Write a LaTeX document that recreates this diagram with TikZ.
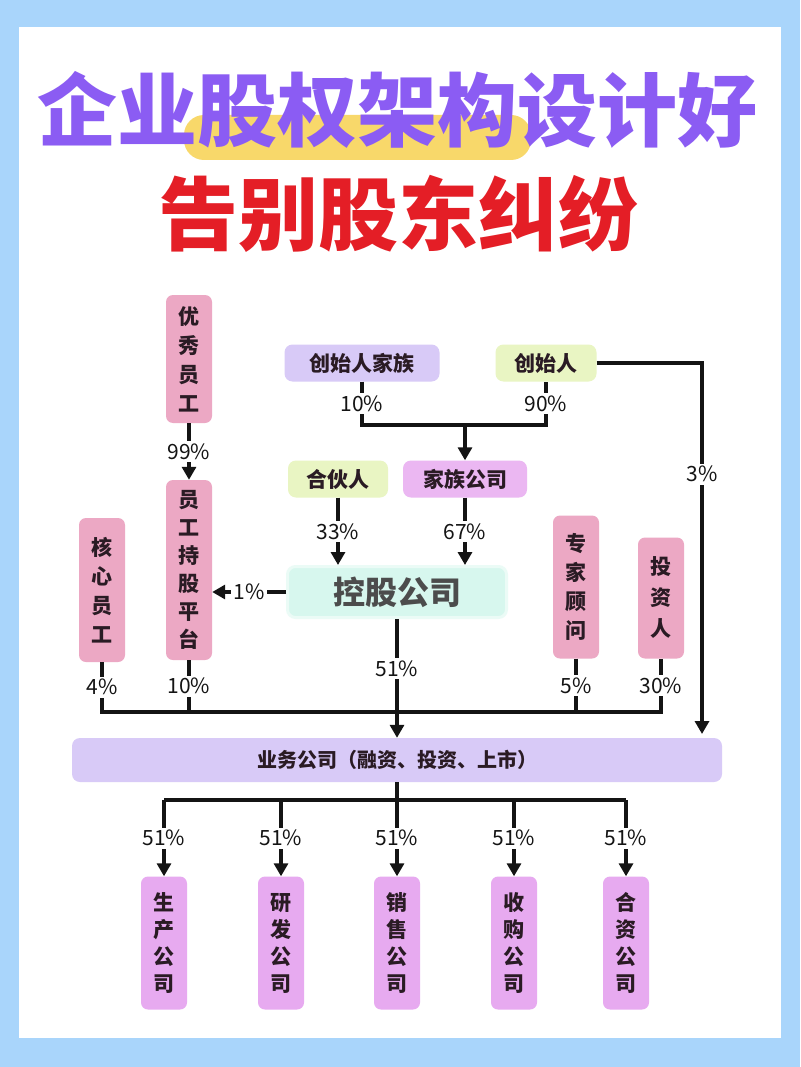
\documentclass[tikz,border=0pt]{standalone}
\usepackage{fontspec}
\setmainfont{Noto Sans CJK SC}
\usetikzlibrary{arrows.meta}
\definecolor{bgblue}{HTML}{A9D5FB}
\definecolor{pill}{HTML}{F8D86A}
\definecolor{titlepurple}{HTML}{8B5CF3}
\definecolor{titlered}{HTML}{E41E26}
\definecolor{pinkbox}{HTML}{ECA8C4}
\definecolor{lavender}{HTML}{D8CAF7}
\definecolor{lime}{HTML}{E9F5C3}
\definecolor{violet}{HTML}{E7AAF0}
\definecolor{mint}{HTML}{D7F7EE}
\definecolor{boxtext}{HTML}{2A1B24}
\definecolor{ink}{HTML}{141414}

\begin{document}
\begin{tikzpicture}[x=1pt,y=-1pt]

        \fill[bgblue] (0,0) rectangle (800,1067);
        \useasboundingbox (0,0) rectangle (800,1067);
        \fill[white] (19,27) rectangle (781,1038);

        \fill[pill, rounded corners=20pt] (184,115) rectangle (531,160);
        \node[font=\fontsize{80}{80}\selectfont\bfseries, text=titlepurple] (t1) at (397,110) {企业股权架构设计好};
        \node[font=\fontsize{80}{80}\selectfont\bfseries, text=titlered] (t2) at (398,214) {告别股东纠纷};

        \begin{scope}[every node/.style={rounded corners=7pt, minimum width=46pt, inner sep=0pt, align=center, text=boxtext, font=\fontsize{21}{29}\selectfont\bfseries}]
          \node[fill=pinkbox, minimum height=128pt] (yx) at (189,359) {优\\秀\\员\\工};
          \node[fill=pinkbox, minimum height=180pt, font=\fontsize{21}{28}\selectfont\bfseries] (yc) at (189,570) {员\\工\\持\\股\\平\\台};
          \node[fill=pinkbox, minimum height=144pt] (hx) at (102,590) {核\\心\\员\\工};
          \node[fill=pinkbox, minimum height=143pt] (zj) at (576,587) {专\\家\\顾\\问};
          \node[fill=pinkbox, minimum height=121pt, font=\fontsize{21}{31}\selectfont\bfseries] (tz) at (661,598) {投\\资\\人};
          \node[fill=violet, minimum height=133pt, font=\fontsize{21}{27}\selectfont\bfseries] (s1) at (164,943) {生\\产\\公\\司};
          \node[fill=violet, minimum height=133pt, font=\fontsize{21}{27}\selectfont\bfseries] (s2) at (281,943) {研\\发\\公\\司};
          \node[fill=violet, minimum height=133pt, font=\fontsize{21}{27}\selectfont\bfseries] (s3) at (397,943) {销\\售\\公\\司};
          \node[fill=violet, minimum height=133pt, font=\fontsize{21}{27}\selectfont\bfseries] (s4) at (514,943) {收\\购\\公\\司};
          \node[fill=violet, minimum height=133pt, font=\fontsize{21}{27}\selectfont\bfseries] (s5) at (626,943) {合\\资\\公\\司};
        \end{scope}

        \begin{scope}[every node/.style={rounded corners=8pt, inner sep=0pt, minimum height=37pt, text=boxtext, font=\fontsize{21}{21}\selectfont\bfseries}]
          \node[fill=lavender, minimum width=155pt] (cfam) at (362,363) {创始人家族};
          \node[fill=lime, minimum width=101pt] (cf) at (546,363) {创始人};
          \node[fill=lime, minimum width=100pt] (hh) at (338,479) {合伙人};
          \node[fill=violet!85!white, minimum width=124pt] (kf) at (465,479) {家族公司};
          \node[fill=mint, draw=mint!50!white, line width=3pt, minimum width=219pt, minimum height=51pt, font=\fontsize{32}{32}\selectfont\bfseries, text=black!70] (kg) at (397,592) {控股公司};
          \node[fill=lavender, minimum width=650pt, minimum height=44pt, font=\fontsize{20}{20}\selectfont\bfseries] (yw) at (397,760) {业务公司（融资、投资、上市）};
        \end{scope}

        \coordinate (j) at (465,425);
        \coordinate (b) at (397,712);
        \coordinate (r) at (702,734);
        \coordinate (d) at (397,800);

        \begin{scope}[every node/.style={fill=white, inner sep=2.5pt, text=ink, font=\fontsize{21}{21}\selectfont},
                      line width=3.2pt, draw=ink, >={Triangle[width=14pt,length=13pt]}]
          \draw[->] (yx) -- node {99\%} (yc);
          \draw (cfam.south) |- node[pos=.25] {10\%} (j);
          \draw (j) -| node[pos=.75] {90\%} (cf.south);
          \draw[->] (j) -- (kf.north);
          \draw[->] (hh) -- node {33\%} (hh |- kg.north);
          \draw[->] (kf) -- node {67\%} (kf |- kg.north);
          \draw[->] (kg.west) -- node {1\%} (kg.west -| yc.east);
          \draw[->] (cf.east) -| node[pos=.65] {3\%} (r);
          \draw (hx.south) -- node {4\%} (hx.south |- b) -- (tz.south |- b) -- node {30\%} (tz.south);
          \draw (yc.south) -- node {10\%} (yc.south |- b);
          \draw (zj.south) -- node {5\%} (zj.south |- b);
          \draw[->] (kg.south) -- node[pos=.42] {51\%} (kg.south |- yw.north);
          \draw (yw.south) -- (d);
          \draw (d -| s1) -- (d -| s5);
          \draw[->] (d -| s1) -- node {51\%} (s1.north);
          \draw[->] (d -| s2) -- node {51\%} (s2.north);
          \draw[->] (d -| s3) -- node {51\%} (s3.north);
          \draw[->] (d -| s4) -- node {51\%} (s4.north);
          \draw[->] (d -| s5) -- node {51\%} (s5.north);
        \end{scope}

      \end{tikzpicture}
\end{document}
